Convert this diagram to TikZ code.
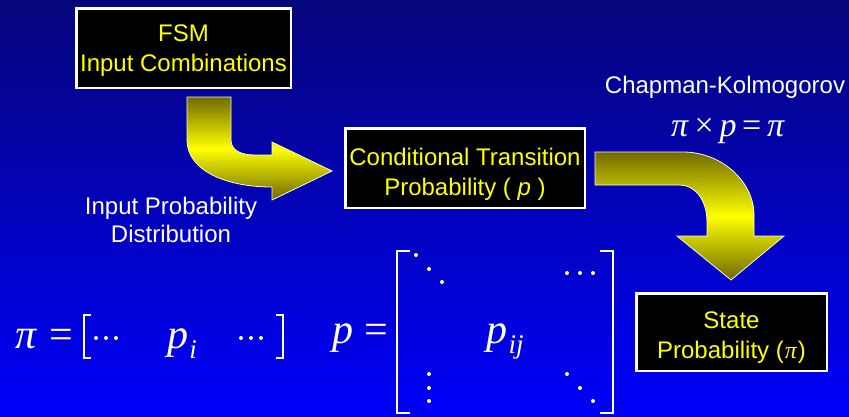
\documentclass[tikz,border=0pt]{standalone}
\usepackage{fontspec}
\setmainfont{Liberation Sans}
\newfontfamily\serf{Liberation Serif}
\definecolor{bgtop}{RGB}{5,5,122}
\definecolor{bgbot}{RGB}{0,0,250}
\definecolor{olv}{RGB}{112,106,0}
\definecolor{ylw}{RGB}{255,255,0}
\tikzset{
  box/.style={draw=white, line width=2.5pt, fill=black, inner sep=0pt},
  boxtext/.style={text=ylw, align=center, font=\fontsize{24}{30}\selectfont, inner sep=0pt},
  lbl/.style={text=white, align=center, font=\fontsize{24}{28}\selectfont, inner sep=0pt},
  mth/.style={text=white, font=\serf\itshape\fontsize{42}{42}\selectfont, inner sep=0pt, anchor=base},
  mthup/.style={text=white, font=\serf\fontsize{42}{42}\selectfont, inner sep=0pt, anchor=base},
  subs/.style={text=white, font=\serf\itshape\fontsize{27}{27}\selectfont, inner sep=0pt, anchor=base},
  brk/.style={draw=white, line width=2pt},
  mdot/.style={fill=white},
  arrowedge/.style={draw=white!80!yellow, line width=0.8pt},
  blockarrow/.style={top color=olv, bottom color=olv, middle color=ylw}
}
\begin{document}
\begin{tikzpicture}[x=1pt,y=-1pt]
\useasboundingbox (0,0) rectangle (849,416);
\shade[top color=bgtop, bottom color=bgbot] (0,0) rectangle (849,416);

% block arrows
\shade[blockarrow] (187,97) -- (231,97) -- (231,140)
  .. controls (231,150) and (240,155) .. (255,155) -- (272,155) -- (272,142)
  -- (332,171) -- (272,200) -- (272,187)
  .. controls (225,187) and (187,170) .. (187,140) -- cycle;
\draw[arrowedge] (187,97) -- (231,97) -- (231,140)
  .. controls (231,150) and (240,155) .. (255,155) -- (272,155) -- (272,142)
  -- (332,171) -- (272,200) -- (272,187)
  .. controls (225,187) and (187,170) .. (187,140) -- cycle;

\shade[blockarrow] (595,152) -- (683,152) .. controls (722,152) and (754,182) .. (754,215)
  -- (754,236) -- (784,236) -- (731,280) -- (677,236) -- (707,236) -- (707,222)
  .. controls (707,200) and (695,185) .. (680,185) -- (595,185) -- cycle;
\draw[arrowedge] (595,152) -- (683,152) .. controls (722,152) and (754,182) .. (754,215)
  -- (754,236) -- (784,236) -- (731,280) -- (677,236) -- (707,236) -- (707,222)
  .. controls (707,200) and (695,185) .. (680,185) -- (595,185) -- cycle;

% boxes
\node[box, minimum width=214.5pt, minimum height=79.5pt] (fsm) at (183.5,48) {};
\node[boxtext] (fsmt) at (183.5,51) {FSM\\Input Combinations};
\node[box, minimum width=239.5pt, minimum height=79.5pt] (ctp) at (465,168) {};
\node[boxtext] (ctpt) at (465,174) {Conditional Transition\\Probability ( \textit{p} )};
\node[box, minimum width=190.5pt, minimum height=77.5pt] (sp) at (731.5,332) {};
\node[boxtext] (spt) at (731.5,337.5) {State\\Probability (\kern1pt{\serf\itshape π}\kern1pt)};

% labels
\node[lbl] (ipd) at (171,219.5) {Input Probability\\Distribution};
\node[lbl] (ck) at (725,87) {Chapman-Kolmogorov};
\node[text=white, font=\serf\fontsize{34}{34}\selectfont, inner sep=0pt, anchor=base] (ckeq) at (728,136)
  {\textit{π}\,×\,\textit{p}\,=\,\textit{π}};

% first equation
\node[mth] (pi1) at (26,348) {π};
\node[mthup] (eq1) at (61,348) {=};
\draw[brk] (91,315) -- (84,315) -- (84,358) -- (91,358);
\fill[mdot] (96,338) circle (2) (106,338) circle (2) (116,338) circle (2);
\node[mth] (pv) at (178,348) {p};
\node[subs] (pvi) at (193,358) {i};
\fill[mdot] (241,338) circle (2) (251,338) circle (2) (261,338) circle (2);
\draw[brk] (276,315) -- (283,315) -- (283,358) -- (276,358);

% second equation
\node[mth] (p2) at (343,343) {p};
\node[mthup] (eq2) at (376,343) {=};
\draw[brk] (410,251) -- (397,251) -- (397,413) -- (410,413);
\draw[brk] (600,251) -- (613,251) -- (613,413) -- (600,413);
\fill[mdot] (416,255) circle (2) (429,269) circle (2) (442,282) circle (2);
\fill[mdot] (567,273) circle (2) (580,273) circle (2) (593,273) circle (2);
\node[mth] (pij) at (497,343) {p};
\node[subs] (pijs) at (516,353) {ij};
\fill[mdot] (429,374) circle (2) (429,388) circle (2) (429,401) circle (2);
\fill[mdot] (567,374) circle (2) (580,388) circle (2) (593,401) circle (2);
\end{tikzpicture}
\end{document}
